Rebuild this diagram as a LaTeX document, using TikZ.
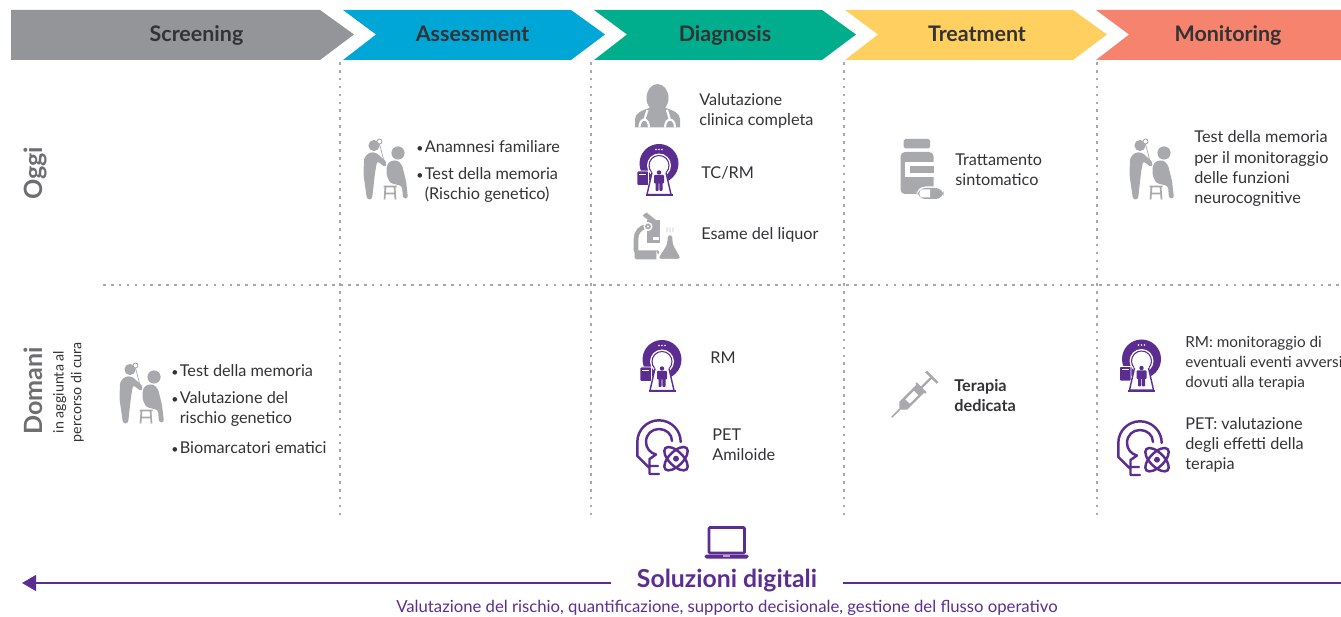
\documentclass[tikz,border=0pt]{standalone}
\usepackage{fontspec}
\setmainfont{Lato}
\usetikzlibrary{arrows.meta}

\definecolor{iconGray}{HTML}{A7A9AC}
\definecolor{barGray}{HTML}{939598}
\definecolor{barBlue}{HTML}{00A6D6}
\definecolor{barGreen}{HTML}{00AE8E}
\definecolor{barYellow}{HTML}{FFD060}
\definecolor{barRed}{HTML}{F6836D}
\definecolor{labelGray}{HTML}{6D6E71}
\definecolor{inkDark}{HTML}{333336}
\definecolor{purpleDig}{HTML}{5B2D91}

\newcommand{\bl}{\makebox[4.8pt][l]{\scriptsize\textbullet}}
\newcommand{\blgap}{\hspace*{4.8pt}}

\tikzset{
  phase/.style={font=\fontsize{12.2}{14}\selectfont\bfseries, text=inkDark, inner sep=0, text height=8.5pt, text depth=0.5pt},
  txt/.style={font=\fontsize{9.25}{11.4}\selectfont, text=inkDark, align=left, anchor=west, inner sep=0, yshift=-0.3pt},
  rowlabel/.style={font=\fontsize{14.3}{16}\selectfont\bfseries, text=labelGray, rotate=90, anchor=west, inner sep=0},
  sep/.style={draw=iconGray, line width=0.7pt, dash pattern=on 1.5pt off 3pt},
  % examiner with patient
  examiner/.pic={
    \fill[iconGray] (12,6.5) circle[radius=5.6];
    \draw[iconGray, fill=white, line width=0.5pt] (17.5,2.5) circle[radius=2.5];
    \draw[iconGray, line width=0.4pt] (17.5,5) -- (23,26);
    \fill[iconGray, rounded corners=1.5pt] (2,19) -- (7,13.5) -- (14,13.5) -- (25,23.5) -- (23.5,28.5) -- (15,22)
      -- (13,34) -- (10,60.5) -- (5,60.5) -- (1.5,36) -- cycle;
    \fill[iconGray] (36,14) circle[radius=6.6];
    \fill[iconGray, rounded corners=1.5pt] (27,22.5) -- (35,21) -- (40,26) -- (44,42) -- (46,59.5) -- (41,59.5)
      -- (40,47) -- (28,44) -- (24.5,36) -- (24.5,28) -- cycle;
    \draw[iconGray, line width=1pt] (21.5,47.5) -- (34.5,47.5) (23.5,47.5) -- (22.5,60.5) (32.5,47.5) -- (33.5,60.5) (23,54.5) -- (33,54.5);
  },
  % doctor bust
  doctorbust/.pic={
    \fill[iconGray] (22.5,15) ellipse[x radius=11, y radius=14];
    \fill[iconGray] (0,44.5) -- (0,36) .. controls (0,30) and (8,27) .. (14,25) -- (31,25)
      .. controls (37,27) and (45,30) .. (45,36) -- (45,44.5) -- cycle;
    \draw[white, line width=1.2pt] (4.5,44.5) .. controls (4.5,34) and (14,34) .. (14,44.5)
      (30,44.5) .. controls (30,34) and (40,34) .. (40,44.5)
      (9.2,37) -- (12.5,27) (35,37) -- (32,27);
  },
  % scanner
  scanner/.pic={
    \fill[purpleDig] (0,0) circle[radius=19.5];
    \fill[white] (0,2) circle[radius=12];
    \draw[purpleDig, line width=0.6pt] (0,2) circle[radius=10];
    \draw[white, fill=purpleDig, line width=0.5pt, rounded corners=0.5pt] (-22,7.5) rectangle (-10.5,22);
    \draw[white, line width=0.4pt] (-20,10.5) -- (-13,10.5);
    \fill[white] (-6,3) -- (6,3) -- (12,30) -- (-12,30) -- cycle;
    \draw[purpleDig, line width=0.8pt] (-7,9) -- (-12,31) -- (12,31) -- (7,9);
    \fill[purpleDig] (-13.5,31) rectangle (13.5,33);
    \fill[purpleDig] (0,9) circle[radius=2.2];
    \fill[purpleDig, rounded corners=0.5pt] (-5,11.5) rectangle (5,20) (-3.5,18) rectangle (-0.4,27.5) (0.4,18) rectangle (3.5,27.5);
    \fill[white] (-3,-14) circle[radius=0.8] (0,-14) circle[radius=0.8] (3,-14) circle[radius=0.8];
  },
  % microscope with flask
  microscope/.pic={
    \fill[iconGray] (8,3) -- (12,0) -- (22,8) -- (18,11) -- cycle;
    \fill[iconGray] (12,8) -- (25,8) -- (25,31) -- (12,31) -- cycle;
    \draw[iconGray, line width=2.6pt, line cap=round] (1.5,38) -- (1.5,26) .. controls (1.5,20) and (6,14) .. (13,14);
    \fill[iconGray, rounded corners=1pt] (0,38) rectangle (25,47);
    \fill[white] (13,33) rectangle (25,38);
    \fill[white] (18,24.5) rectangle (24.5,27.5);
    \draw[white, fill=iconGray, line width=0.8pt] (13.5,14) circle[radius=3.8];
    \fill[white] (13.5,14) circle[radius=1.2];
    \draw[white, line width=1.2pt, fill=iconGray, rounded corners=2pt] (32,21.5) -- (39,21.5) -- (39,31) -- (47,45)
      -- (47,47.5) -- (23,47.5) -- (23,45) -- (32,31) -- cycle;
    \draw[iconGray!70, line width=0.4pt] (32.5,20) .. controls (31,18) and (34,17) .. (32.5,15)
      (35.5,20) .. controls (34,18) and (37,17) .. (35.5,15) (38.5,20) .. controls (37,18) and (40,17) .. (38.5,15);
  },
  % pet scan head
  pethead/.pic={
    \draw[purpleDig, line width=1.4pt, line cap=round, line join=round]
      (21.7,0) .. controls (21.7,-12) and (12,-21.7) .. (0,-21.7) .. controls (-12,-21.7) and (-21.7,-12) .. (-21.7,0)
      -- (-21.7,14) -- (-9.5,26)
      (13,-1) .. controls (13,-8) and (7,-13) .. (0,-13) .. controls (-7,-13) and (-13,-8) .. (-13,0) .. controls (-13,6) and (-9,11) .. (-3,12.5)
      -- (-9.5,17) -- (-9.5,32) -- (0,32) (-9.5,24) -- (-1,24);
    \draw[white, line width=3pt] (17,16.7) circle[radius=12];
    \draw[purpleDig, line width=1.4pt] (17,16.7) ellipse[x radius=15, y radius=7, rotate=45]
      (17,16.7) ellipse[x radius=15, y radius=7, rotate=-45];
    \fill[purpleDig] (17,16.7) circle[radius=3];
  },
  % pill bottle
  pillbottle/.pic={
    \fill[iconGray, rounded corners=1pt] (3.5,0) rectangle (30,9.5);
    \fill[iconGray, rounded corners=2.5pt] (0.5,13) rectangle (33.5,55);
    \fill[white] (5,23) rectangle (33.5,38);
    \fill[iconGray] (10,27) rectangle (33.5,34);
    \fill[white, rounded corners=5pt] (16.5,47.5) rectangle (44.5,61);
    \fill[iconGray, rounded corners=4.5pt] (17.5,49) rectangle (43.5,60);
    \fill[white] (19.5,50.5) -- (30,50.5) -- (30,58.5) -- (22,58.5) .. controls (18.5,58.5) and (18.5,50.5) .. (22,50.5);
  },
  % syringe
  syringe/.pic={
    \begin{scope}[rotate=45]
      \draw[iconGray, line width=0.9pt, line cap=round] (0,0) -- (13,0);
      \fill[iconGray] (12,-1.5) -- (16,-5.5) -- (41,-5.5) -- (41,5.5) -- (16,5.5) -- (12,1.5) -- cycle;
      \fill[white] (22,-3) rectangle (34,3);
      \fill[iconGray] (40,-7) rectangle (42,7);
      \fill[iconGray] (42,-1.2) rectangle (56,1.2);
      \fill[iconGray] (55,-8) rectangle (57.5,8);
    \end{scope}
  },
  % laptop
  laptop/.pic={
    \draw[purpleDig, line width=1.5pt, rounded corners=0.5pt] (4.5,1.5) rectangle (40,27);
    \fill[purpleDig, rounded corners=1pt] (0,28.5) rectangle (44,32.5);
    \fill[purpleDig!45] (18.5,29) rectangle (25.5,30.5);
  }
}

\begin{document}
\begin{tikzpicture}[x=0.02cm,y=-0.02cm]
      \useasboundingbox (0,0) rectangle (1341,617);

      % phases
      \fill[barGray] (11,10) -- (320,10) -- (354,34.5) -- (320,60) -- (11,60) -- cycle;
      \fill[barBlue] (343,10) -- (571,10) -- (605,34.5) -- (571,60) -- (343,60) -- (376,34.5) -- cycle;
      \fill[barGreen] (594,10) -- (822,10) -- (856,34.5) -- (822,60) -- (594,60) -- (627,34.5) -- cycle;
      \fill[barYellow] (845,10) -- (1073,10) -- (1107,34.5) -- (1073,60) -- (845,60) -- (878,34.5) -- cycle;
      \fill[barRed] (1096,10) -- (1341,10) -- (1341,60) -- (1096,60) -- (1129,34.5) -- cycle;
      \node[phase] (screening) at (196.5,34.5) {Screening};
      \node[phase] (assessment) at (472.5,34.5) {Assessment};
      \node[phase] (diagnosis) at (725,34.5) {Diagnosis};
      \node[phase] (treatment) at (977,34.5) {Treatment};
      \node[phase] (monitoring) at (1228,34.5) {Monitoring};

      % grid
      \draw[sep] (340,62) -- (340,515);
      \draw[sep] (591,62) -- (591,515);
      \draw[sep] (844,62) -- (844,515);
      \draw[sep] (1097,62) -- (1097,515);
      \draw[sep] (103,285) -- (1341,285);

      % rows
      \node[rowlabel] (oggi) at (35,200) {Oggi};
      \node[rowlabel] (domani) at (33,435) {Domani};
      \node[font=\fontsize{8.1}{10}\selectfont, text=inkDark, rotate=90, align=center, inner sep=0] (aggiunta) at (68.5,392) {in aggiunta al\\percorso di cura};

      % oggi
      \pic at (362,139) {examiner};
      \node[txt] (anamnesi) at (416,146) {\bl Anamnesi familiare};
      \node[txt] (testmem) at (416,184.5) {\bl Test della memoria\\\blgap (Rischio genetico)};
      \pic at (635,83) {doctorbust};
      \node[txt] (valutazione) at (699,110) {Valutazione\\clinica completa};
      \pic at (659,163.5) {scanner};
      \node[txt] (tcrm) at (701,172) {TC/RM};
      \pic at (634.5,212.5) {microscope};
      \node[txt] (liquor) at (701,234) {Esame del liquor};
      \pic at (900,139) {pillbottle};
      \node[txt] (sintomatico) at (955,169) {Trattamento\\sintomatico};
      \pic at (1128,139) {examiner};
      \node[txt] (monfunz) at (1194,168) {Test della memoria\\per il monitoraggio\\delle funzioni\\neurocognitive};

      % domani
      \pic at (118,363) {examiner};
      \node[txt] (testdom) at (171,370) {\bl Test della memoria};
      \node[txt] (rischio) at (171,408) {\bl Valutazione del\\\blgap rischio genetico};
      \node[txt] (biomarc) at (171,447) {\bl Biomarcatori ematici};
      \pic at (662,359.5) {scanner};
      \node[txt] (rmdom) at (710,357) {RM};
      \pic at (659,442) {pethead};
      \node[txt] (petamil) at (712,444) {PET\\Amiloide};
      \pic at (892,417) {syringe};
      \node[txt, font=\fontsize{9.25}{11.4}\selectfont\bfseries] (dedicata) at (954,395) {Terapia\\dedicata};
      \pic at (1141.5,359) {scanner};
      \node[txt, font=\fontsize{8.7}{11.4}\selectfont] (rmmon) at (1185,363) {RM: monitoraggio di\\eventuali eventi avversi\\dovuti alla terapia};
      \pic at (1140,443) {pethead};
      \node[txt] (petmon) at (1185,444) {PET: valutazione\\degli effetti della\\terapia};

      % digital
      \pic at (704.5,526) {laptop};
      \node[font=\fontsize{14.1}{16}\selectfont\bfseries, text=purpleDig, inner xsep=14.5pt, inner ysep=0, text height=8pt, text depth=2.6pt] (digitali) at (727,583) {Soluzioni digitali};
      \node[font=\fontsize{9.5}{11}\selectfont, text=purpleDig, inner sep=0] (gestione) at (727,607.5) {Valutazione del rischio, quantificazione, supporto decisionale, gestione del flusso operativo};
      \coordinate (leftend) at (22,583);
      \coordinate (rightend) at (1341,583);
      \draw[purpleDig, line width=1.1pt, -{Triangle[length=8pt,width=9pt]}] (digitali) -- (leftend);
      \draw[purpleDig, line width=1.1pt] (digitali) -- (rightend);

    \end{tikzpicture}
\end{document}
